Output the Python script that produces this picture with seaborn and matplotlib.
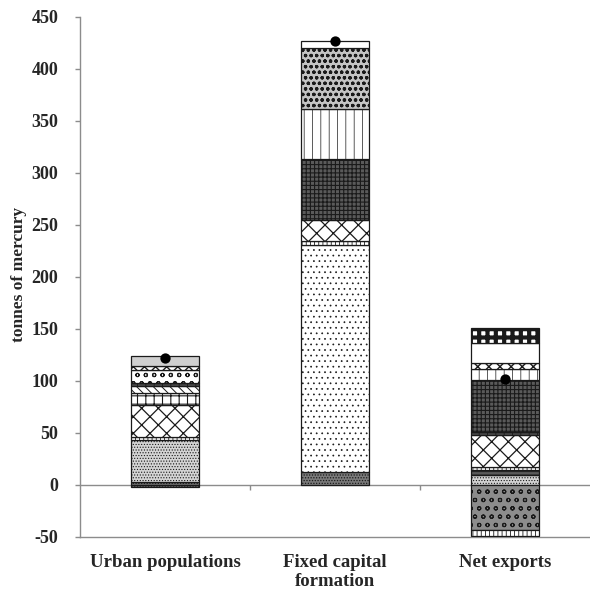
import numpy as np
import pandas as pd
import matplotlib
matplotlib.use("Agg")
import matplotlib.pyplot as plt
import seaborn as sns

# Categories on the x axis
categories = ["Urban populations", "Fixed capital\nformation", "Net exports"]

# Positive contributions, stacked from the bottom up (tonnes of mercury)
layer_a = [3.0, 12.0, 0.0]
layer_b = [40.0, 0.0, 9.6]
layer_c = [0.0, 218.5, 0.0]
layer_d = [0.0, 0.0, 4.4]
layer_e = [3.0, 4.0, 3.0]
layer_f = [31.0, 20.0, 31.0]
layer_g = [11.5, 0.0, 0.0]
layer_h = [6.5, 0.0, 0.0]
layer_i = [3.0, 0.0, 3.0]
layer_j = [0.0, 59.0, 50.0]
layer_k = [0.0, 47.5, 10.5]
layer_l = [12.6, 0.0, 0.0]
layer_m = [0.0, 59.5, 0.0]
layer_n = [4.0, 0.0, 5.5]
layer_o = [0.0, 6.0, 19.5]
layer_p = [0.0, 0.0, 14.5]
layer_q = [9.6, 0.0, 0.0]

# Negative contributions, stacked from zero downwards
neg_a = [-2.0, 0.0, 0.0]
neg_b = [0.0, 0.0, -43.0]
neg_c = [0.0, 0.0, -6.0]

y_ticks = [-50, 0, 50, 100, 150, 200, 250, 300, 350, 400, 450]

positive_layers = [layer_a, layer_b, layer_c, layer_d, layer_e, layer_f, layer_g,
                   layer_h, layer_i, layer_j, layer_k, layer_l, layer_m, layer_n,
                   layer_o, layer_p, layer_q]
negative_layers = [neg_a, neg_b, neg_c]

# fill colour, hatch, hatch line width for each layer
pos_styles = [
    ("#7a7a7a", "......", 0.6),
    ("#d4d4d4", "......", 0.5),
    ("#ffffff", "...", 0.5),
    ("#5a5a5a", "-----", 0.6),
    ("#ffffff", "||||", 0.6),
    ("#ffffff", "xx", 0.9),
    ("#ffffff", "++", 0.8),
    ("#ffffff", "\\\\\\\\", 0.7),
    ("#4a4a4a", "||", 0.6),
    ("#5a5a5a", "++++", 0.8),
    ("#ffffff", "||", 0.5),
    ("#ffffff", "oo", 0.8),
    ("#c4c4c4", "ooo", 0.9),
    ("#ffffff", "xxx", 1.0),
    ("#ffffff", "", 0.6),
    ("#ffffff", "++", 3.0),
    ("#cfcfcf", "", 0.6),
]
neg_styles = [
    ("#6a6a6a", "......", 0.6),
    ("#8c8c8c", "oo", 0.8),
    ("#ffffff", "||||", 0.6),
]

sns.set_style("white")
plt.rcParams["font.family"] = ["Liberation Serif", "DejaVu Serif"]
plt.rcParams["font.weight"] = "bold"

fig = plt.figure(figsize=(5.9, 5.91), dpi=100)
ax = fig.add_axes([0.1356, 0.0914, 0.8644, 0.880])

x = np.arange(len(categories))
bar_w = 0.40
edge = "#1a1a1a"


def draw_stack(layers, styles):
    base = np.zeros(len(categories))
    for vals, (fc, hatch, hlw) in zip(layers, styles):
        vals = np.asarray(vals, dtype=float)
        mask = vals != 0
        if mask.any():
            with plt.rc_context({"hatch.linewidth": hlw, "hatch.color": edge}):
                ax.bar(x[mask], vals[mask], bottom=base[mask], width=bar_w,
                       color=fc, edgecolor=edge, linewidth=0.9, hatch=hatch,
                       zorder=3)
        base = base + vals


draw_stack(positive_layers, pos_styles)
draw_stack(negative_layers, neg_styles)

# Net total of every bar, shown as a dot
totals = np.sum(np.array(positive_layers), axis=0) + np.sum(np.array(negative_layers), axis=0)
dots = pd.DataFrame({"x": x, "total": totals})
sns.scatterplot(data=dots, x="x", y="total", color="black", s=55,
                edgecolor="black", linewidth=0, zorder=5, ax=ax, legend=False)

ax.set_xlim(-0.5, 2.5)
ax.set_ylim(-50, 450)
ax.set_yticks(y_ticks)
ax.set_yticklabels([str(t) for t in y_ticks], fontsize=13, fontweight="bold")
ax.set_xticks(x)
ax.set_xticklabels(categories, fontsize=13.5, fontweight="bold")
ax.tick_params(axis="x", length=0, pad=12)
ax.tick_params(axis="y", length=3.5, width=1, color="#8c8c8c", direction="out", pad=12, left=True)
ax.set_xlabel("")
ax.set_ylabel("tonnes of mercury", fontsize=12.5, fontweight="bold")
ax.yaxis.set_label_coords(-0.104, 0.505)

for side in ["top", "right"]:
    ax.spines[side].set_visible(False)
for side in ["left", "bottom"]:
    ax.spines[side].set_color("#8c8c8c")
    ax.spines[side].set_linewidth(1.0)

# zero line with category boundary ticks
ax.axhline(0, color="#8c8c8c", linewidth=1.0, zorder=2)
ax.vlines([0.5, 1.5], -4.5, 0, color="#8c8c8c", linewidth=1.0, zorder=2)

fig.savefig("out.png", dpi=100)
